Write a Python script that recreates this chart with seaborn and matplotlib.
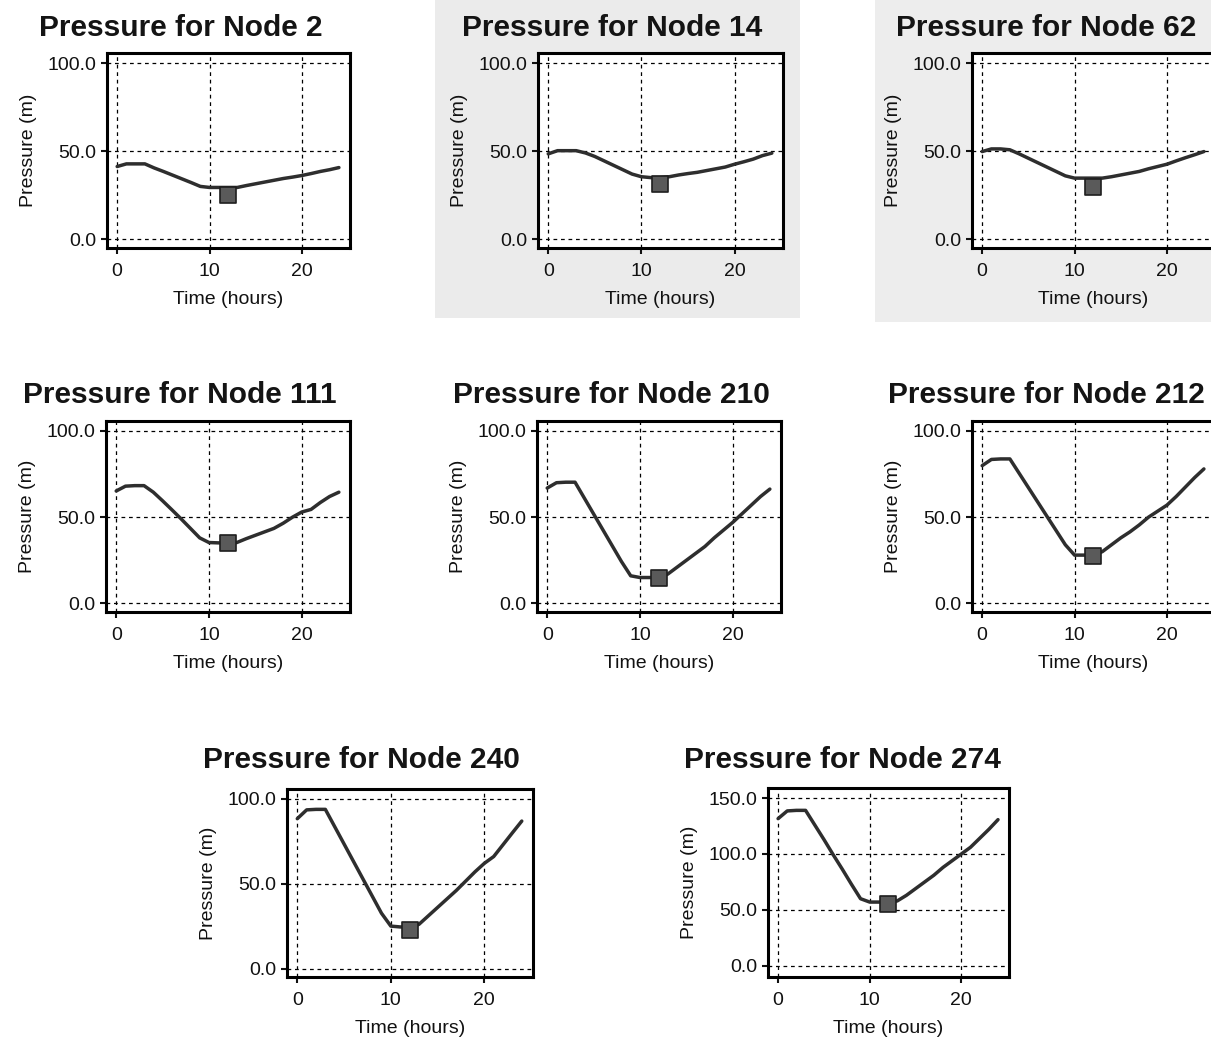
import matplotlib.pyplot as plt
import seaborn as sns
import pandas as pd
from matplotlib.patches import Rectangle

# hourly pressures (m)
hours = list(range(25))

node_2 = [41.3, 42.8, 42.8, 42.8, 40.5, 38.5, 36.4, 34.3, 32.2, 30.0, 29.4, 29.4, 29.4,
          29.4, 30.5, 31.5, 32.5, 33.5, 34.5, 35.3, 36.2, 37.3, 38.5, 39.5, 40.7]
node_14 = [48.5, 50.3, 50.3, 50.3, 49.0, 47.0, 44.5, 42.0, 39.5, 37.0, 35.5, 35.0, 35.0,
           35.5, 36.5, 37.3, 38.0, 39.0, 40.0, 41.0, 42.6, 44.0, 45.5, 47.5, 48.9]
node_62 = [49.8, 51.3, 51.3, 50.8, 48.5, 46.0, 43.5, 41.0, 38.5, 36.0, 34.7, 34.7, 34.7,
           34.7, 35.5, 36.5, 37.5, 38.5, 40.0, 41.3, 42.6, 44.5, 46.3, 48.0, 49.8]
node_111 = [65.2, 68.0, 68.3, 68.3, 64.5, 59.5, 54.3, 49.0, 43.5, 38.0, 35.3, 35.1, 35.1,
            35.3, 37.5, 39.5, 41.5, 43.5, 46.5, 50.0, 53.0, 54.5, 58.5, 62.0, 64.5]
node_210 = [66.9, 70.0, 70.3, 70.3, 61.1, 51.9, 42.7, 33.5, 24.3, 16.0, 15.0, 15.0, 15.0,
            17.0, 21.0, 25.0, 29.0, 33.0, 38.0, 42.5, 47.0, 52.0, 57.0, 62.0, 66.3]
node_212 = [79.9, 83.5, 83.8, 83.8, 75.5, 67.2, 58.9, 50.6, 42.3, 34.0, 28.0, 28.0, 28.0,
            30.0, 34.0, 38.0, 41.5, 45.5, 50.0, 53.5, 57.0, 62.0, 67.5, 73.0, 78.0]
node_240 = [88.3, 93.5, 93.8, 93.8, 83.6, 73.4, 63.2, 53.0, 42.8, 32.6, 25.0, 24.5, 24.5,
            26.0, 31.0, 36.0, 41.0, 46.0, 51.5, 57.0, 62.0, 66.0, 73.0, 80.0, 86.9]
node_274 = [131.6, 138.5, 139.0, 139.0, 126.0, 113.0, 99.5, 86.5, 73.0, 60.0, 57.0, 57.0, 57.0,
            58.0, 63.0, 69.0, 75.0, 81.0, 88.0, 94.0, 100.0, 106.0, 114.0, 122.0, 130.7]

node_names = ['2', '14', '62', '111', '210', '212', '240', '274']
node_series = [node_2, node_14, node_62, node_111, node_210, node_212, node_240, node_274]
marker_hour = 12
marker_values = [25.2, 31.2, 29.5, 35.1, 14.6, 27.5, 22.5, 55.7]
y_tops = [100, 100, 100, 100, 100, 100, 100, 150]

W, H = 1211, 1039
# panel boxes in pixels: left, top, width, height
boxes = [(107, 53, 243, 195), (538, 53, 245, 195), (972, 53, 243, 195),
         (106, 421, 244, 191), (537, 421, 244, 191), (972, 421, 243, 191),
         (287, 789, 246, 188), (768, 788, 241, 189)]
title_y = [28, 28, 28, 395, 395, 395, 760, 760]

sns.set_style('white')
plt.rcParams['font.family'] = ['Liberation Sans', 'DejaVu Sans']

fig = plt.figure(figsize=(W / 100, H / 100), dpi=100)
fig.patch.set_facecolor('white')
# scanned page shading behind the top-middle and top-right panels
for x0, x1, y1, c in [(435, 800, 318, '#ebebeb'), (875, 1211, 322, '#ededed')]:
    fig.patches.append(Rectangle((x0 / W, 1 - y1 / H), (x1 - x0) / W, y1 / H,
                                 transform=fig.transFigure, facecolor=c,
                                 edgecolor='none', zorder=-10))

for name, vals, mval, ytop, (l, t, w, h), ty in zip(node_names, node_series, marker_values,
                                                     y_tops, boxes, title_y):
    ax = fig.add_axes([l / W, 1 - (t + h) / H, w / W, h / H])
    ax.set_facecolor('white')
    df = pd.DataFrame({'hour': hours, 'pressure': vals})
    sns.lineplot(data=df, x='hour', y='pressure', ax=ax, color='#2e2e2e', lw=2.5, zorder=3)
    sns.scatterplot(x=[marker_hour], y=[mval], ax=ax, marker='s', s=120, color='#5a5a5a',
                    edgecolor='#1e1e1e', linewidth=1.2, zorder=4)

    ax.set_xlim(-1.1, 25.2)
    if ytop == 150:
        ax.set_ylim(-10, 159)
        ax.set_yticks([0, 50, 100, 150])
    else:
        ax.set_ylim(-5, 105.8)
        ax.set_yticks([0, 50, 100])
    ax.set_xticks([0, 10, 20])
    ax.set_yticklabels([f'{v:.1f}' for v in ax.get_yticks()])

    ax.grid(True, color='black', linestyle=(0, (3, 3)), lw=0.9)
    for sp in ax.spines.values():
        sp.set_visible(True)
        sp.set_color('black')
        sp.set_linewidth(2.2)
    ax.tick_params(bottom=True, left=True, direction='out', length=4.5, width=1.5,
                   colors='#111111', labelsize=14, pad=3)
    ax.tick_params(axis='x', pad=6)
    ax.set_xlabel('Time (hours)', fontsize=14, labelpad=8, color='#111111')
    ax.set_ylabel('Pressure (m)', fontsize=14, labelpad=8, color='#111111')

    fig.text((l + 74) / W, 1 - ty / H, f'Pressure for Node {name}', ha='center', va='center',
             fontsize=21.5, fontweight='bold', color='#141414')

fig.savefig('out.png', dpi=100)
